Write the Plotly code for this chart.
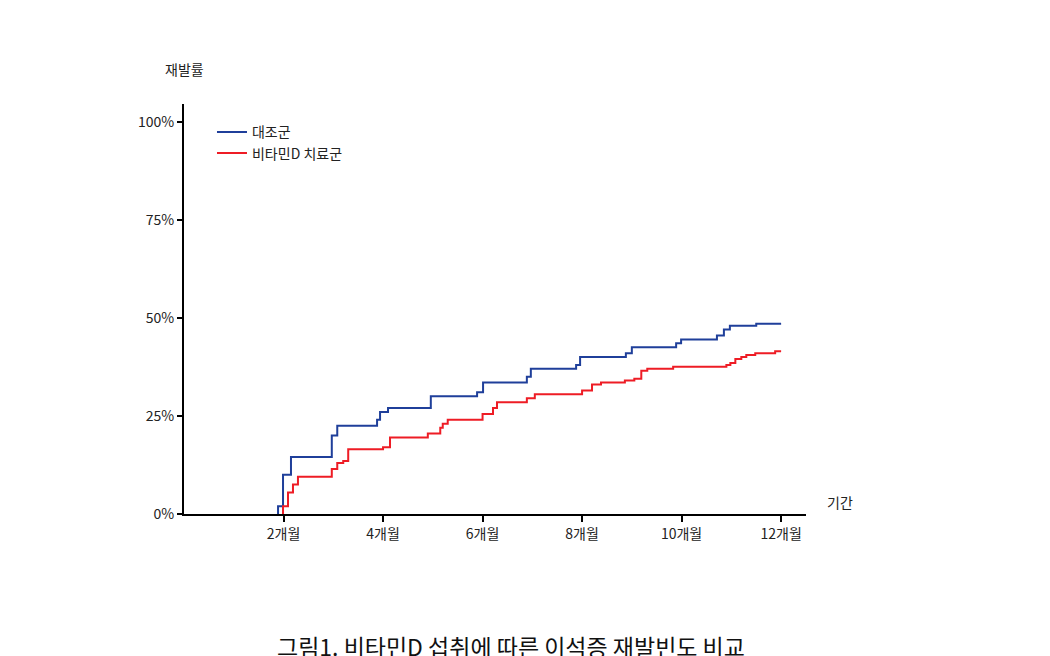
import plotly.graph_objects as go

# 대조군 (months, cumulative %)
ctrl_t = [1.89, 1.89, 1.99, 2.15, 2.97, 3.08, 3.88, 3.94, 4.10, 4.96, 5.89, 6.01, 6.89, 6.97,
          7.88, 7.96, 8.88, 9.0, 9.89, 9.99, 10.71, 10.85, 10.97, 11.5, 12.0]
ctrl_y = [0, 2, 10, 14.5, 20, 22.5, 24, 26, 27, 30, 31, 33.5, 35, 37,
          38, 40, 41, 42.5, 43.5, 44.5, 45.5, 47, 48, 48.5, 48.5]

# 비타민D 치료군
vitd_t = [1.99, 1.99, 2.09, 2.19, 2.29, 2.97, 3.08, 3.2, 3.3, 4.0, 4.14, 4.9, 5.15, 5.2, 5.3,
          6.0, 6.21, 6.29, 6.89, 7.05, 8.0, 8.2, 8.38, 8.86, 9.05, 9.19, 9.31, 9.83,
          10.9, 10.98, 11.08, 11.2, 11.3, 11.48, 11.88, 12.0]
vitd_y = [0, 2, 5.5, 7.5, 9.5, 11.5, 13, 13.5, 16.5, 17, 19.5, 20.5, 22, 23, 24,
          25.5, 27, 28.5, 29.5, 30.5, 31.5, 33, 33.5, 34, 34.5, 36.5, 37, 37.5,
          38, 38.5, 39.5, 40, 40.5, 41, 41.5, 41.5]

x_ticks = [2, 4, 6, 8, 10, 12]
x_labels = ["2개월", "4개월", "6개월", "8개월", "10개월", "12개월"]
y_ticks = [0, 25, 50, 75, 100]
y_labels = ["0%", "25%", "50%", "75%", "100%"]

fig = go.Figure()
fig.add_trace(go.Scatter(x=ctrl_t, y=ctrl_y, mode="lines", line_shape="hv",
                         line=dict(color="#1f3f9a", width=2), name="대조군"))
fig.add_trace(go.Scatter(x=vitd_t, y=vitd_y, mode="lines", line_shape="hv",
                         line=dict(color="#ee1c25", width=2), name="비타민D 치료군"))

fig.update_layout(
    width=1050, height=656, plot_bgcolor="white", paper_bgcolor="white",
    margin=dict(l=176, r=252, t=96, b=150, autoexpand=False),
    font=dict(family="Noto Sans CJK KR", size=14, color="#222"),
    legend=dict(x=0.045, y=0.97, xanchor="left", yanchor="top", bgcolor="rgba(0,0,0,0)",
                itemwidth=30, tracegroupgap=6, font=dict(size=14)),
)
fig.update_xaxes(range=[0, 12.5], tickvals=x_ticks, ticktext=x_labels, showgrid=False,
                 showline=True, linecolor="black", linewidth=2, ticks="outside",
                 ticklen=6, tickwidth=2, tickcolor="black", zeroline=False, automargin=False)
fig.update_yaxes(range=[0, 104.5], tickvals=y_ticks, ticktext=y_labels, showgrid=False,
                 showline=True, linecolor="black", linewidth=2, ticks="outside",
                 ticklen=5, tickwidth=2, tickcolor="black", zeroline=False, automargin=False)

fig.add_annotation(text="재발률", x=0.0, y=1.055, xref="paper", yref="paper",
                   xanchor="center", yanchor="bottom", showarrow=False, font=dict(size=14))
fig.add_annotation(text="기간", x=1.03, y=0, xref="paper", yref="paper",
                   xanchor="left", yanchor="bottom", showarrow=False, font=dict(size=14))
fig.add_annotation(text="그림1. 비타민D 섭취에 따른 이석증 재발빈도 비교", x=0.525, y=-0.322,
                   xref="paper", yref="paper", xanchor="center", yanchor="middle",
                   showarrow=False, font=dict(size=23, color="#111"))

fig.write_html("out.html")
